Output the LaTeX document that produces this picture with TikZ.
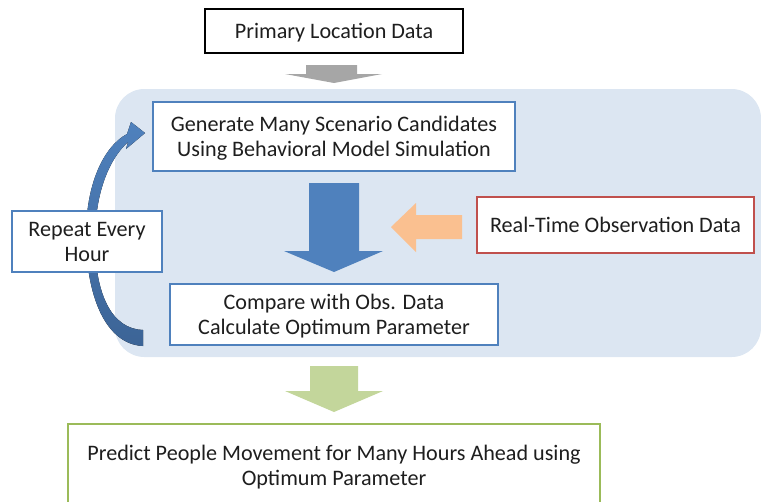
\documentclass[tikz,border=0pt]{standalone}
\usepackage{fontspec}
\setmainfont{Carlito}
\definecolor{bgblue}{HTML}{DCE6F2}
\definecolor{accblue}{HTML}{4F81BD}
\definecolor{darkblue}{HTML}{3C6496}
\definecolor{accred}{HTML}{C0504D}
\definecolor{accgreen}{HTML}{9BBB59}
\definecolor{lightgreen}{HTML}{C3D69B}
\definecolor{lightorange}{HTML}{FAC090}
\definecolor{arrowgray}{HTML}{A6A6A6}
\definecolor{txt}{HTML}{1E1E1E}
\begin{document}
\begin{tikzpicture}[x=0.75pt,y=-0.75pt,
  box/.style={draw, line width=1.3pt, fill=white, align=center, inner sep=0pt,
    text depth=0pt, font=\fontsize{16.6}{18.9}\selectfont, text=txt},
  bluebox/.style={box, draw=accblue}]
\useasboundingbox (0,0) rectangle (761,501);
% background panel
\fill[bgblue, rounded corners=22pt] (115,89) rectangle (761,357);
% curved arrow
\fill[top color=accblue, bottom color=darkblue]
  (143,346) .. controls (105,344) and (86,295) .. (86,235)
  .. controls (86,185) and (103,147) .. (127,134)
  -- (131,122) -- (145,133) -- (126,149) -- (128,142)
  .. controls (108,160) and (95,195) .. (95,240)
  .. controls (95,295) and (112,329) .. (143,330) -- cycle;
% boxes
\node[box, draw=black, minimum width=193.5pt, minimum height=33pt] (prim) at (334,31) {Primary Location Data};
\node[bluebox, minimum width=271.5pt, minimum height=51.75pt] (gen) at (334,136.5) {Generate Many Scenario Candidates\\Using Behavioral Model Simulation};
\node[box, draw=accred, minimum width=207.75pt, minimum height=42pt] (rt) at (615.5,225) {Real-Time Observation Data};
\node[bluebox, minimum width=246pt, minimum height=45.75pt] (cmp) at (334,314.5) {Compare with Obs. Data\\Calculate Optimum Parameter};
\node[bluebox, minimum width=112.5pt, minimum height=45.75pt] (rep) at (87,241.5) {Repeat Every\\Hour};
\node[box, draw=accgreen, minimum width=399pt, minimum height=61.5pt] (pred) at (334,465) {Predict People Movement for Many Hours Ahead using\\Optimum Parameter};
% gray arrow
\fill[arrowgray] (306,65) -- (357,65) -- (357,74) -- (382,74) -- (334,83) -- (285,74) -- (306,74) -- cycle;
% blue arrow
\fill[accblue] (309,183) -- (359,183) -- (359,251) -- (383,251) -- (334,272) -- (284,251) -- (309,251) -- cycle;
% orange arrow
\fill[lightorange] (462,215) -- (462,239) -- (416,239) -- (416,252) -- (391,227) -- (416,203) -- (416,215) -- cycle;
% green arrow
\fill[lightgreen] (310,366) -- (358,366) -- (358,391) -- (383,391) -- (334,412) -- (285,391) -- (310,391) -- cycle;
\end{tikzpicture}
\end{document}
